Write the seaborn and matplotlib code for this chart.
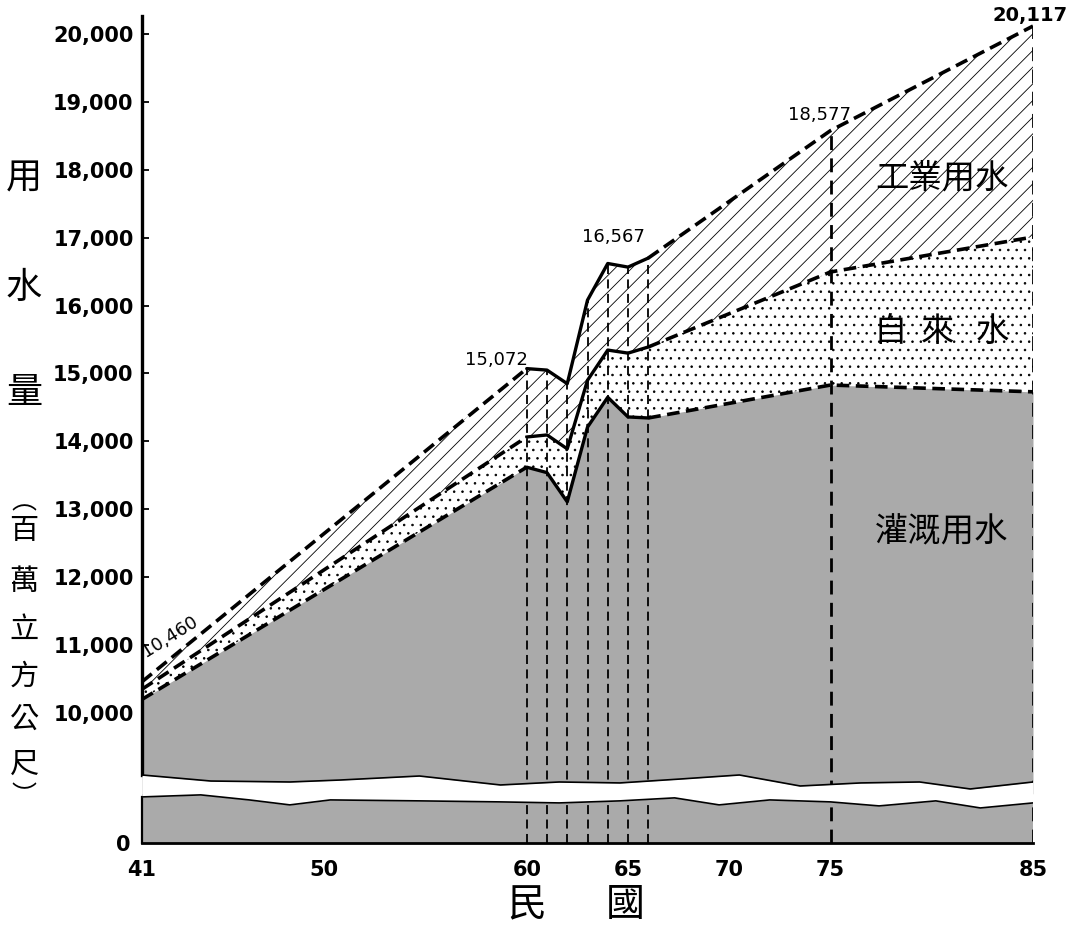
import numpy as np
import pandas as pd
import matplotlib
matplotlib.use("Agg")
import matplotlib.pyplot as plt
import seaborn as sns

# 民國 years and water use (百萬立方公尺)
years = [41, 60, 61, 62, 63, 64, 65, 66, 75, 85]
irrigation = [10200, 13620, 13540, 13110, 14210, 14650, 14360, 14345, 14830, 14730]
tap_water = [150, 445, 555, 780, 690, 695, 940, 1045, 1665, 2280]
industry = [110, 1007, 955, 960, 1180, 1275, 1267, 1310, 2082, 3107]

x_ticks = [41, 50, 60, 65, 70, 75, 85]
y_ticks = list(range(10000, 20001, 1000))
guide_years = [60, 61, 62, 63, 64, 65, 66, 75, 85]

# wavy break of the y axis (upper band bottom edge / lower band top edge)
break_years = [41, 44.4, 48.3, 50.8, 54.7, 58.7, 61.6, 64.6, 67.6, 70.5, 73.5, 76.5, 79.4, 81.9, 85]
break_upper = [9087, 8998, 8984, 9013, 9072, 8940, 8984, 8970, 9028, 9087, 8925, 8970, 8984, 8881, 8984]
break_lower_years = [41, 43.9, 46.3, 48.3, 50.3, 54.7, 58.7, 61.6, 64.6, 67.3, 69.5, 72.0, 75.0, 77.4, 80.2, 82.4, 85]
break_lower = [677, 707, 633, 560, 633, 619, 604, 589, 619, 663, 560, 633, 604, 545, 619, 515, 589]

irr = np.array(irrigation)
mid = irr + np.array(tap_water)
tot = mid + np.array(industry)

sns.set_theme(style="white")
plt.rcParams["font.family"] = ["DejaVu Sans", "Noto Sans CJK TC"]
plt.rcParams["hatch.linewidth"] = 0.6
plt.rcParams["text.color"] = "black"
plt.rcParams["xtick.color"] = "black"
plt.rcParams["ytick.color"] = "black"
cjk = "Noto Sans CJK TC"

W, H = 1070, 933
def fx(x):
    return x / W
def fy(y):
    return 1 - y / H

fig = plt.figure(figsize=(10.7, 9.33), dpi=100)
ax = fig.add_axes([fx(142), fy(794), fx(1033) - fx(142), fy(16) - fy(794)])
axl = fig.add_axes([fx(142), fy(843), fx(1033) - fx(142), fy(794) - fy(843)], sharex=ax)

top_lo, top_hi = 8807, 20265
gray = "#aaaaaa"

# stacked areas
ax.fill_between(years, top_lo, irr, color=gray, lw=0, zorder=1)
ax.fill_between(years, irr, mid, facecolor="white", edgecolor="black", hatch="..", lw=0, zorder=1)
ax.fill_between(years, mid, tot, facecolor="white", edgecolor="black", hatch="//", lw=0, zorder=1)

# guide lines
ax.vlines(guide_years[:7], top_lo, tot[1:8], colors="black", lw=1.3, linestyles=(0, (5, 3)), zorder=2)
ax.vlines(guide_years[7:], top_lo, tot[8:], colors="black", lw=2.0, linestyles=(0, (5, 3)), zorder=2)
axl.fill_between(break_lower_years, 0, 720, color=gray, lw=0, zorder=1)
axl.vlines(guide_years[:7], 0, 720, colors="black", lw=1.3, linestyles=(0, (5, 3)), zorder=2)
axl.vlines(guide_years[7:], 0, 720, colors="black", lw=2.0, linestyles=(0, (5, 3)), zorder=2)

# boundaries: dashed trend, solid actual 60-66
for vals in (irr, mid, tot):
    for a, b, ls, lw in ((0, 1, (0, (3.5, 1.8)), 2.6), (1, 7, "-", 2.4), (7, 9, (0, (3.5, 1.8)), 2.6)):
        seg = pd.DataFrame({"year": years[a:b + 1], "v": vals[a:b + 1]})
        sns.lineplot(data=seg, x="year", y="v", ax=ax, color="black", lw=lw,
                     linestyle=ls, estimator=None, sort=False, zorder=3)

# the break (white fills run past the limits so no seam shows)
ax.fill_between(break_years, top_lo - 300, break_upper, color="white", lw=0, zorder=4)
ax.plot(break_years, break_upper, color="black", lw=1.2, zorder=4)
axl.fill_between(break_lower_years, break_lower, 900, color="white", lw=0, zorder=4)
axl.plot(break_lower_years, break_lower, color="black", lw=1.2, zorder=4)

ax.set_xlim(41, 85)
ax.set_ylim(top_lo, top_hi)
axl.set_ylim(0, 720)
ax.set_xlabel("")
ax.set_ylabel("")

for s in ("top", "right", "bottom"):
    ax.spines[s].set_visible(False)
for s in ("top", "right"):
    axl.spines[s].set_visible(False)
ax.spines["left"].set_linewidth(2.4)
ax.spines["left"].set_color("black")
ax.spines["left"].set_bounds(break_upper[0], top_hi)
axl.spines["left"].set_linewidth(1.6)
axl.spines["left"].set_color("black")
axl.spines["left"].set_bounds(0, break_lower[0])
axl.spines["bottom"].set_linewidth(2.0)
axl.spines["bottom"].set_color("black")

ax.set_yticks(y_ticks)
ax.set_yticklabels([f"{v:,}" for v in y_ticks])
ax.tick_params(axis="y", direction="in", length=5, width=1.3, color="black", pad=6,
               labelsize=15, left=True)
ax.tick_params(axis="x", bottom=False, labelbottom=False)
for t in ax.get_yticklabels():
    t.set_fontweight("bold")
axl.set_yticks([0])
axl.set_yticklabels(["0"])
axl.tick_params(axis="y", length=0, pad=8, labelsize=15, left=True)
axl.set_xticks(x_ticks)
axl.set_xticklabels([str(v) for v in x_ticks])
axl.tick_params(axis="x", length=0, pad=12, labelsize=15)
for t in axl.get_xticklabels() + axl.get_yticklabels():
    t.set_fontweight("bold")
axl.set_xlabel("")
axl.set_ylabel("")

# value labels
fig.text(fx(496), fy(360), f"{tot[1]:,}", fontsize=13, ha="center", va="center")
fig.text(fx(613), fy(237), f"{tot[6]:,}", fontsize=13, ha="center", va="center")
fig.text(fx(820), fy(115), f"{tot[8]:,}", fontsize=13, ha="center", va="center")
fig.text(fx(1030), fy(15), f"{tot[9]:,}", fontsize=14, fontweight="bold", ha="center", va="center")
fig.text(fx(170), fy(637), f"{tot[0]:,}", fontsize=13, rotation=32, ha="center", va="center", zorder=6)

# area names
fig.text(fx(942), fy(178), "工業用水", family=cjk, fontsize=24, weight="light", ha="center", va="center")
for ch, x in (("自", 890), ("來", 937), ("水", 992)):
    fig.text(fx(x), fy(331), ch, family=cjk, fontsize=24, weight="light", ha="center", va="center")
fig.text(fx(942), fy(532), "灌溉用水", family=cjk, fontsize=24, weight="light", ha="center", va="center")

# axis titles
for ch, y, size in (("用", 178, 26), ("水", 288, 26), ("量", 393, 26), ("︵", 502, 18),
                    ("百", 531, 21), ("萬", 582, 21), ("立", 630, 21), ("方", 677, 21),
                    ("公", 720, 21), ("尺", 765, 21), ("︶", 796, 18)):
    fig.text(fx(24), fy(y), ch, family=cjk, fontsize=size, weight="light", ha="center", va="center")
fig.text(fx(527), fy(905), "民", family=cjk, fontsize=28, weight="light", ha="center", va="center")
fig.text(fx(625), fy(905), "國", family=cjk, fontsize=28, weight="light", ha="center", va="center")

fig.savefig("out.png", dpi=100)
